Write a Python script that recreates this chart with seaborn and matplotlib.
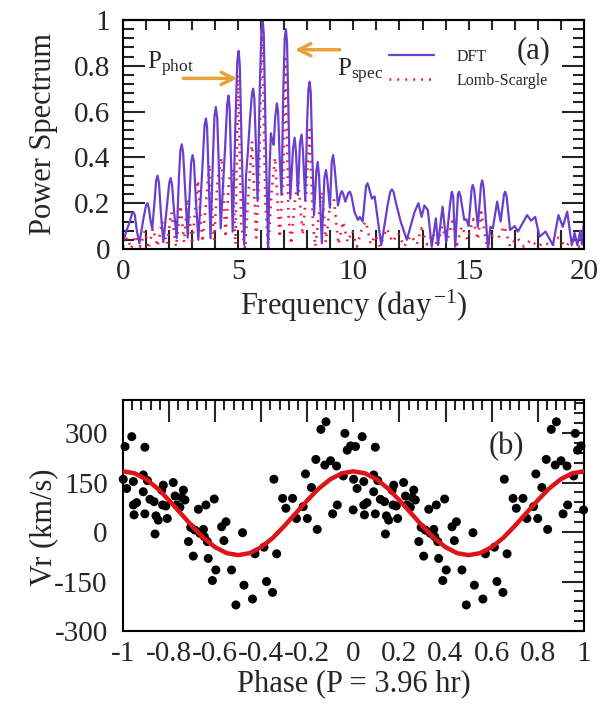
import numpy as np
import pandas as pd
import seaborn as sns
import matplotlib
matplotlib.use("Agg")
import matplotlib.pyplot as plt
from matplotlib.ticker import MultipleLocator, FixedLocator, FixedFormatter, NullFormatter

# ---------------- data: panel (a) power spectra ----------------
dft_freq = [0.00, 0.15, 0.30, 0.39, 0.45, 0.51, 0.60, 0.71,
            0.90, 1.00, 1.06, 1.12, 1.20, 1.27,
            1.38, 1.44, 1.50, 1.56, 1.65, 1.75,
            1.92, 2.01, 2.07, 2.13, 2.22, 2.33,
            2.43, 2.49, 2.55, 2.61, 2.70, 2.81,
            2.91, 2.96, 3.02, 3.08, 3.16, 3.27,
            3.46, 3.54, 3.60, 3.65, 3.72, 3.80,
            3.91, 3.97, 4.03, 4.09, 4.16, 4.24,
            4.44, 4.52, 4.58, 4.63, 4.69, 4.76,
            4.88, 4.96, 5.02, 5.07, 5.15, 5.26,
            5.34, 5.41, 5.52, 5.60, 5.65, 5.70, 5.77, 5.84,
            5.94, 6.01, 6.06, 6.11, 6.20, 6.30,
            6.36, 6.42, 6.47, 6.54, 6.61, 6.68, 6.73, 6.80, 6.88,
            6.96, 7.02, 7.07, 7.12, 7.19, 7.26,
            7.38, 7.45, 7.51, 7.59, 7.68, 7.75, 7.81, 7.91,
            8.00, 8.05, 8.10, 8.15, 8.22, 8.29,
            8.39, 8.45, 8.51, 8.63, 8.74, 8.81, 8.87, 8.98,
            9.06, 9.12, 9.18, 9.33, 9.44, 9.50, 9.56, 9.65,
            9.78, 9.85, 9.92, 10.05, 10.20, 10.28, 10.40,
            10.55, 10.61, 10.67, 10.80, 10.92, 11.21,
            11.50, 11.60, 11.67, 11.74, 11.85, 12.05, 12.32,
            12.65, 12.82, 12.96, 13.08, 13.23, 13.40, 13.58,
            13.67, 13.87, 14.03, 14.20, 14.27, 14.33, 14.42, 14.54, 14.59, 14.65,
            14.81, 14.90, 15.00, 15.13, 15.18, 15.24,
            15.40, 15.54, 15.59, 15.65, 15.84, 15.95, 16.05, 16.24, 16.39, 16.54,
            16.59, 16.65, 16.80, 17.00, 17.14,
            17.54, 17.71, 17.89, 18.08, 18.34, 18.66, 18.90, 19.09, 19.28, 19.48, 19.60,
            19.72, 19.85, 19.92, 20.00]
dft_power = [0.03, 0.08, 0.12, 0.155, 0.16, 0.15, 0.08, 0.025,
             0.14, 0.19, 0.20, 0.18, 0.12, 0.09,
             0.22, 0.30, 0.32, 0.29, 0.15, 0.03,
             0.20, 0.29, 0.31, 0.28, 0.16, 0.047,
             0.32, 0.43, 0.457, 0.42, 0.25, 0.05,
             0.28, 0.38, 0.41, 0.38, 0.22, 0.04,
             0.38, 0.54, 0.57, 0.53, 0.30, 0.047,
             0.42, 0.58, 0.62, 0.57, 0.36, 0.09,
             0.46, 0.63, 0.67, 0.61, 0.38, 0.076,
             0.55, 0.82, 0.865, 0.80, 0.45, 0.017,
             0.32, 0.41, 0.58, 0.68, 0.70, 0.66, 0.45, 0.21,
             0.72, 0.96, 1.00, 0.94, 0.45, 0.00,
             0.35, 0.505, 0.48, 0.455, 0.58, 0.636, 0.60, 0.40, 0.236,
             0.70, 0.92, 0.96, 0.90, 0.55, 0.22,
             0.44, 0.486, 0.42, 0.236, 0.46, 0.50, 0.43, 0.214,
             0.58, 0.70, 0.73, 0.68, 0.40, 0.148,
             0.34, 0.38, 0.32, 0.025, 0.31, 0.345, 0.30, 0.18,
             0.38, 0.41, 0.36, 0.19, 0.24, 0.253, 0.24, 0.207,
             0.245, 0.25, 0.23, 0.16, 0.127, 0.14, 0.12,
             0.275, 0.287, 0.27, 0.22, 0.23, 0.017,
             0.20, 0.25, 0.26, 0.25, 0.20, 0.12, 0.04,
             0.16, 0.20, 0.14, 0.19, 0.17, 0.01, 0.134,
             0.017, 0.185, 0.03, 0.20, 0.25, 0.23, 0.01, 0.24, 0.25, 0.23,
             0.127, 0.13, 0.10, 0.26, 0.28, 0.26,
             0.097, 0.28, 0.30, 0.27, 0.00, 0.097, 0.09, 0.207, 0.12, 0.24,
             0.25, 0.23, 0.083, 0.10, 0.076,
             0.148, 0.124, 0.14, 0.054, 0.076, 0.017, 0.148, 0.097, 0.163, 0.017, 0.07,
             0.017, 0.08, 0.02, 0.11]

ls_freq = [0.00, 0.20, 0.35, 0.55, 0.75, 0.95, 1.10, 1.30, 1.50, 1.70, 1.90, 2.10, 2.30,
           2.50, 2.65, 2.80, 3.00, 3.25, 3.45, 3.60, 3.75, 3.95, 4.10, 4.28, 4.45, 4.60,
           4.75, 4.88, 5.00, 5.13, 5.30, 5.45, 5.60, 5.78, 5.90, 6.03, 6.18, 6.30, 6.45,
           6.60, 6.80, 6.95, 7.05, 7.18, 7.30, 7.45, 7.60, 7.80, 7.95, 8.10, 8.25, 8.35,
           8.50, 8.65, 8.80, 9.00, 9.15, 9.35, 9.55, 9.75, 9.95, 10.15, 10.40, 10.55,
           10.75, 10.95, 11.15, 11.45, 11.70, 11.95, 12.20, 12.50, 12.75, 12.95, 13.20,
           13.45, 13.65, 13.85, 14.05, 14.30, 14.50, 14.70, 14.95, 15.20, 15.40, 15.55,
           15.80, 16.05, 16.30, 16.55, 16.80, 17.10, 17.40, 17.70, 18.00, 18.30, 18.60,
           18.90, 19.20, 19.50, 19.80, 20.00]
ls_power = [0.01, 0.05, 0.00, 0.06, 0.01, 0.08, 0.00, 0.09, 0.01, 0.12, 0.02, 0.16, 0.01,
            0.19, 0.03, 0.22, 0.02, 0.30, 0.03, 0.20, 0.37, 0.04, 0.30, 0.40, 0.05, 0.30,
            0.35, 0.02, 0.76, 0.10, 0.00, 0.25, 0.47, 0.05, 0.30, 0.97, 0.20, 0.00, 0.25,
            0.40, 0.05, 0.30, 0.83, 0.15, 0.02, 0.20, 0.30, 0.06, 0.25, 0.52, 0.10, 0.01,
            0.15, 0.25, 0.03, 0.20, 0.22, 0.02, 0.12, 0.03, 0.08, 0.01, 0.10, 0.12,
            0.02, 0.06, 0.01, 0.09, 0.03, 0.07, 0.01, 0.06, 0.02, 0.09, 0.02,
            0.07, 0.01, 0.10, 0.03, 0.12, 0.02, 0.10, 0.04, 0.13, 0.04, 0.16,
            0.01, 0.06, 0.05, 0.10, 0.01, 0.05, 0.01, 0.04, 0.01, 0.03, 0.01,
            0.05, 0.01, 0.04, 0.01, 0.03]

# ---------------- data: panel (b) radial velocities (one cycle, phase 0..1) -------------
rv_phase = [0.001, 0.009, 0.016, 0.038, 0.045, 0.045, 0.048, 0.059, 0.088, 0.088, 0.095,
            0.095, 0.106, 0.117, 0.135, 0.139, 0.143, 0.153, 0.168, 0.172, 0.175, 0.186,
            0.192, 0.218, 0.226, 0.233, 0.247, 0.255, 0.262, 0.269, 0.284, 0.294, 0.305,
            0.312, 0.327, 0.334, 0.349, 0.353, 0.360, 0.366, 0.370, 0.388, 0.396, 0.403,
            0.428, 0.438, 0.447, 0.471, 0.490, 0.519, 0.525, 0.562, 0.573, 0.612, 0.623,
            0.649, 0.655, 0.667, 0.693, 0.707, 0.736, 0.753, 0.782, 0.792, 0.800, 0.818,
            0.837, 0.843, 0.859, 0.876, 0.881, 0.901, 0.910, 0.927, 0.930, 0.956, 0.963,
            0.973, 0.988, 0.999]
rv_vel = [160, 259, 132, 289, 153, 82, 52, 89, 173, 122, 257,
          55, 156, 99, 92, -6, 49, 36, 127, 82, 142, 79,
          41, 150, 109, 82, 75, 105, 127, 97, -29, 14, -73,
          6, 69, -4, 8, -14, 82, -29, -80, -147, 100, -115,
          16, -26, 31, -115, -221, -2, -161, -203, -66, -46, -150,
          -183, 160, -66, 102, 72, 102, 41, 77, 176, 41, 135,
          220, 8, 311, 203, 334, 216, 55, 200, 82, 170, 299,
          248, 261, 67]

# sinusoidal fit, phase 0..1 in steps of 0.05
fit_phase = [0.00, 0.05, 0.10, 0.15, 0.20, 0.25, 0.30, 0.35, 0.40, 0.45, 0.50,
             0.55, 0.60, 0.65, 0.70, 0.75, 0.80, 0.85, 0.90, 0.95, 1.00]
fit_vel = [184, 178, 160, 132, 96, 57, 18, -18, -46, -64, -70,
           -64, -46, -18, 18, 57, 96, 132, 160, 178, 184]

cycles = [-1, 0]

ya_ticks = [0, 0.2, 0.4, 0.6, 0.8, 1.0]
ya_labels = ["0", "0.2", "0.4", "0.6", "0.8", "1"]
xb_ticks = [-1, -0.8, -0.6, -0.4, -0.2, 0, 0.2, 0.4, 0.6, 0.8, 1]
xb_labels = ["-1", "-0.8", "-0.6", "-0.4", "-0.2", "0", "0.2", "0.4", "0.6", "0.8", "1"]
yb_ticks = [-300, -150, 0, 150, 300]
yb_labels = ["-300", "-150", "0", "150", "300"]

# ---------------- style ----------------
sns.set_theme(style="white")
plt.rcParams["font.family"] = ["Liberation Serif", "DejaVu Serif"]
plt.rcParams["mathtext.fontset"] = "custom"
plt.rcParams["mathtext.rm"] = "Liberation Serif"
plt.rcParams["mathtext.it"] = "Liberation Serif:italic"
plt.rcParams["axes.unicode_minus"] = False

PURPLE = "#6a3fd0"
RED = "#ec1f3a"
ORANGE = "#e8a23a"
FIT_RED = "#dd1418"

fig = plt.figure(figsize=(6.0, 7.06), dpi=100)
ax1 = fig.add_axes([0.205, 0.6473, 0.768, 0.3244])
ax2 = fig.add_axes([0.205, 0.1062, 0.768, 0.3272])

# ---------------- panel (a) ----------------
df_dft = pd.DataFrame({"f": dft_freq, "p": dft_power})
df_ls = pd.DataFrame({"f": ls_freq, "p": ls_power})
sns.lineplot(data=df_ls, x="f", y="p", ax=ax1, color=RED, lw=1.9,
             linestyle=(0, (0.7, 2.3)), estimator=None, sort=False, label="Lomb-Scargle")
sns.lineplot(data=df_dft, x="f", y="p", ax=ax1, color=PURPLE, lw=1.6,
             estimator=None, sort=False, label="DFT")
lines = ax1.get_lines()
ax1.legend(handles=[lines[1], lines[0]], labels=["DFT", "Lomb-Scargle"],
           loc="upper left", bbox_to_anchor=(0.578, 0.873), frameon=False,
           fontsize=11.5, handlelength=2.8, handletextpad=1.4, labelspacing=0.5,
           borderpad=0, borderaxespad=0)

ax1.set_xlim(0, 20)
ax1.set_ylim(0, 1)
ax1.xaxis.set_major_locator(MultipleLocator(5))
ax1.xaxis.set_minor_locator(MultipleLocator(1))
ax1.yaxis.set_major_locator(FixedLocator(ya_ticks))
ax1.yaxis.set_major_formatter(FixedFormatter(ya_labels))
ax1.yaxis.set_minor_locator(MultipleLocator(0.04))
ax1.tick_params(axis="x", which="both", direction="in", length=14, width=1.5,
                top=False, bottom=True, labelsize=21, pad=7)
ax1.tick_params(axis="y", which="major", direction="in", length=16, width=1.5,
                left=True, right=True, labelsize=21, pad=9)
ax1.tick_params(axis="y", which="minor", direction="in", length=8, width=1.5,
                left=True, right=True)
sec = ax1.secondary_xaxis("top")
sec.xaxis.set_major_locator(MultipleLocator(1))
sec.xaxis.set_major_formatter(NullFormatter())
sec.tick_params(axis="x", which="both", direction="in", length=7, width=1.5)
sec.spines["top"].set_linewidth(1.5)

ax1.set_xlabel(r"Frequency (day$^{\,\mathregular{-1}}$)", fontsize=22, labelpad=2)
ax1.set_ylabel("Power Spectrum", fontsize=22)
ax1.yaxis.set_label_coords(-0.14, 0.5)

ax1.annotate("", xy=(4.96, 0.745), xytext=(2.62, 0.745),
             arrowprops=dict(arrowstyle="->", color=ORANGE, lw=2.5, mutation_scale=22,
                             shrinkA=0, shrinkB=0))
ax1.annotate("", xy=(7.46, 0.87), xytext=(9.41, 0.87),
             arrowprops=dict(arrowstyle="->", color=ORANGE, lw=2.5, mutation_scale=22,
                             shrinkA=0, shrinkB=0))
ax1.text(1.04, 0.785, r"P$_{\mathregular{phot}}$", fontsize=18, va="baseline", ha="left")
ax1.text(9.30, 0.755, r"P$_{\mathregular{spec}}$", fontsize=18, va="baseline", ha="left")
ax1.text(17.8, 0.865, "(a)", fontsize=22, ha="center", va="center")

# ---------------- panel (b) ----------------
df_rv = pd.concat([pd.DataFrame({"phase": np.array(rv_phase) + c, "v": rv_vel}) for c in cycles],
                  ignore_index=True)
df_fit = pd.concat([pd.DataFrame({"phase": np.array(fit_phase) + c, "v": fit_vel, "cyc": c})
                    for c in cycles], ignore_index=True)
sns.scatterplot(data=df_rv, x="phase", y="v", ax=ax2, color="black", s=42,
                edgecolor="none", zorder=2, clip_on=False)
sns.lineplot(data=df_fit, x="phase", y="v", ax=ax2, color=FIT_RED, lw=3.2,
             estimator=None, sort=True, zorder=3)

ax2.set_xlim(-1, 1)
ax2.set_ylim(-300, 400)
ax2.xaxis.set_major_locator(FixedLocator(xb_ticks))
ax2.xaxis.set_major_formatter(FixedFormatter(xb_labels))
ax2.xaxis.set_minor_locator(MultipleLocator(0.04))
ax2.yaxis.set_major_locator(FixedLocator(yb_ticks))
ax2.yaxis.set_major_formatter(FixedFormatter(yb_labels))
ax2.yaxis.set_minor_locator(MultipleLocator(30))
ax2.tick_params(axis="both", which="major", direction="in", length=16, width=1.5,
                top=True, right=True, labelsize=21)
ax2.tick_params(axis="both", which="minor", direction="in", length=7, width=1.5,
                top=True, right=True)
ax2.tick_params(axis="x", which="major", pad=7)
ax2.tick_params(axis="y", which="major", pad=11)
ax2.set_xlabel("Phase (P = 3.96 hr)", fontsize=22, labelpad=2)
ax2.set_ylabel("Vr (km/s)", fontsize=22)
ax2.yaxis.set_label_coords(-0.14, 0.45)
ax2.text(0.666, 258, "(b)", fontsize=22, ha="center", va="center")

for ax in (ax1, ax2):
    for s in ax.spines.values():
        s.set_visible(True)
        s.set_linewidth(1.5)
        s.set_color("black")
    ax.grid(False)

fig.savefig("out.png", dpi=100, facecolor="white")
